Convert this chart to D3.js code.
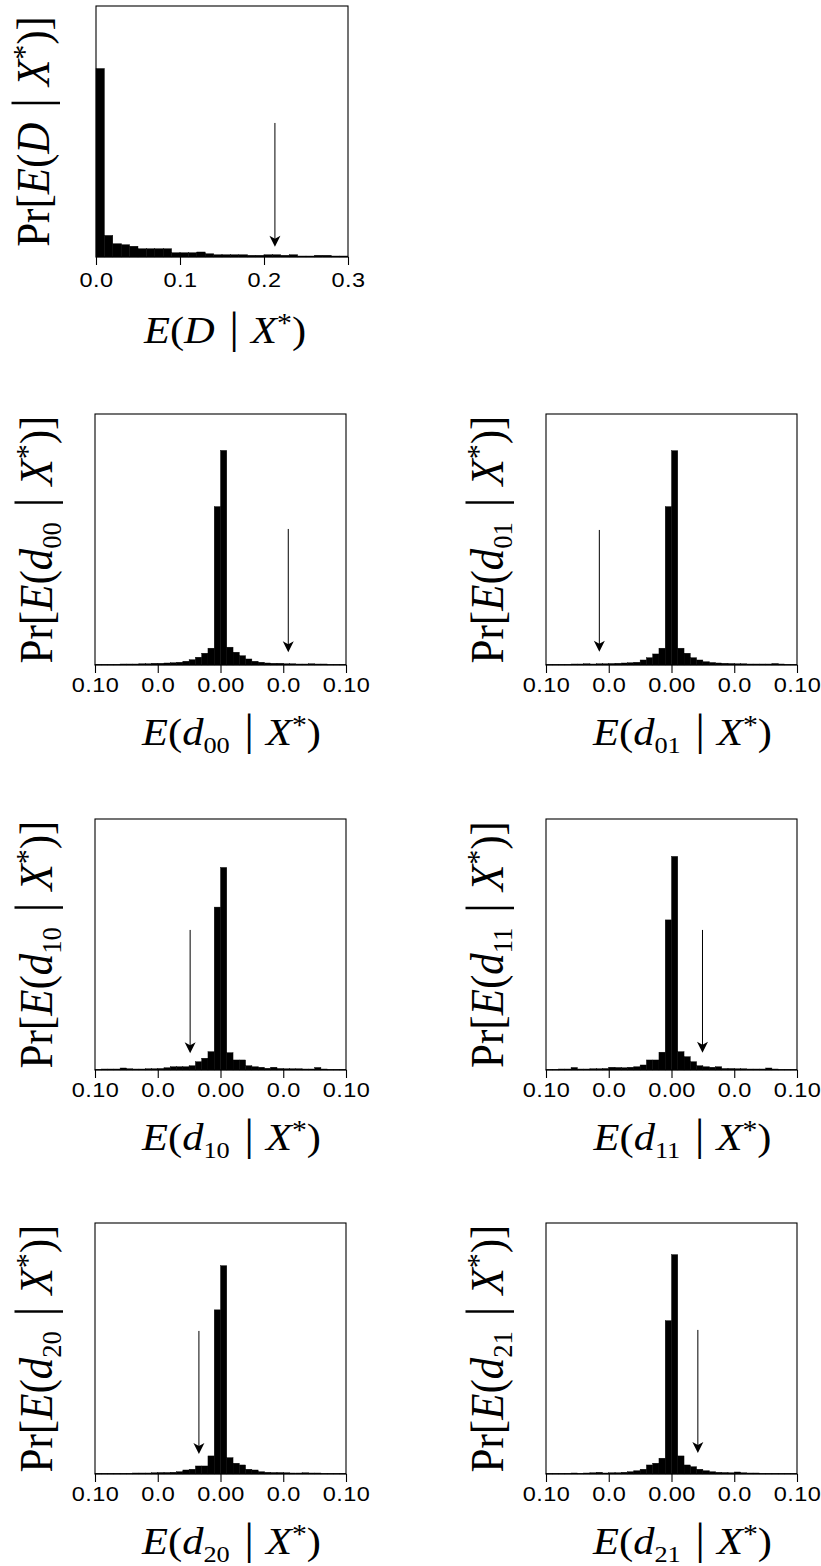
<!DOCTYPE html>
<html><head><meta charset="utf-8">
<script src="https://cdn.jsdelivr.net/npm/d3@7"></script>
<style>
html,body{margin:0;padding:0;background:#fff;}
svg{display:block;}
.ticklab{font-family:'Liberation Sans',Arial,Helvetica,sans-serif;font-size:21px;}
</style></head><body>
<svg id="chart" width="821" height="1566"></svg>
<script>
// ================= DATA =================
// Panel for E(D | X*): 30 bins of width 0.01 on [0, 0.3]; bar heights in % of the y axis
const binWidthD = 0.01;
const histD = [75.1,8.6,5.3,4.9,4.3,3.3,3.3,3.3,3.3,1.7,1.7,1.7,2.0,1.3,0.9,0.9,0.9,0.9,0.7,0.7,0.9,0.9,0.7,0.9,0.4,0.4,0.7,0.7,0.4,0.4];
const observedD = 0.213;
const ticksD = [0, 0.1, 0.2, 0.3];
const tickLabelsD = ["0.0", "0.1", "0.2", "0.3"];

// Panels for E(d_ij | X*): 40 bins of width 0.005 on [-0.10, 0.10]
const binWidthd = 0.005;
const subscriptsd = ["00", "01", "10", "11", "20", "21"];
const hist_d00 = [0.3,0.3,0.3,0.3,0.4,0.4,0.4,0.5,0.5,0.7,0.7,0.8,0.9,1.1,1.5,2.1,3.1,4.7,6.7,63.1,85.5,7.1,5.1,3.7,2.4,1.5,1.1,0.8,0.7,0.7,0.5,0.5,0.4,0.4,0.5,0.4,0.4,0.3,0.3,0.3];
const hist_d01 = [0.3,0.3,0.3,0.3,0.4,0.4,0.5,0.4,0.5,0.5,0.6,0.7,0.8,0.9,1.1,2.0,2.9,4.4,6.7,63.1,85.4,6.7,4.7,2.9,2.0,1.3,1.0,0.8,0.7,0.6,0.5,0.5,0.4,0.4,0.4,0.4,0.6,0.4,0.3,0.3];
const hist_d10 = [0.3,0.4,0.4,0.4,0.8,0.5,0.4,0.4,0.5,0.5,0.6,0.9,1.3,1.3,1.3,1.7,3.3,4.7,7.3,64.9,80.7,6.9,4.0,4.0,1.7,1.3,1.1,0.7,1.1,0.6,0.5,0.5,0.5,0.4,0.4,1.0,0.4,0.3,0.3,0.3];
const hist_d11 = [0.3,0.3,0.4,0.4,1.0,0.4,0.4,0.5,0.5,0.6,1.1,1.0,0.9,1.1,1.3,2.0,4.0,4.0,7.1,59.8,85.1,7.3,5.3,3.3,1.7,1.3,1.1,1.3,0.6,0.6,0.5,0.5,0.4,0.4,0.4,0.8,0.4,0.3,0.3,0.3];
const hist_d20 = [0.3,0.3,0.3,0.3,0.3,0.3,0.4,0.4,0.4,0.5,0.6,0.6,0.7,0.9,1.6,1.9,3.2,3.2,7.2,65.4,83.0,6.5,4.3,3.6,1.9,1.6,0.9,0.7,0.6,0.6,0.5,0.4,0.4,0.5,0.4,0.4,0.3,0.3,0.3,0.3];
const hist_d21 = [0.3,0.3,0.3,0.3,0.4,0.3,0.4,0.5,0.7,0.4,0.5,0.5,0.7,0.9,1.3,1.9,3.6,4.3,6.3,61.1,87.4,7.2,3.6,2.9,1.9,1.3,0.9,0.7,0.6,0.5,0.8,0.5,0.4,0.4,0.3,0.3,0.3,0.3,0.3,0.3];
const observedd = [0.054, -0.0575, -0.0242, 0.0247, -0.0172, 0.021];
const ticksd = [-0.10, -0.05, 0, 0.05, 0.10];
const tickLabelsd = ["0.10", "0.0", "0.00", "0.0", "0.10"];

// ================= LAYOUT / STYLE =================
const W = 251, H = 251;
const colX = [95, 546];
const rowY = [6, 414, 819, 1223];
const serif = "'Liberation Serif','Times New Roman',serif";
// arrow extents in y-axis units [start, tip]
const arrowD = [53.4, 4.1];
const arrowsd = [[54.2,5.1],[53.8,5.3],[55.8,6.7],[55.8,6.9],[57.0,8.0],[57.4,8.4]];

const svg = d3.select("#chart");

function addLabel(textSel, fs, sub, withPr) {
  const parts = [];
  if (withPr) parts.push({t: "Pr[", s: "n"});
  parts.push({t: "E", s: "i"}, {t: "(", s: "n"});
  if (sub) { parts.push({t: "d", s: "i"}, {t: sub, s: "sub"}); }
  else parts.push({t: "D", s: "i"});
  parts.push({t: "|", s: "bar"}, {t: "X", s: "i", dx: fs*0.28}, {t: "*", s: "sup"}, {t: ")", s: "n"});
  if (withPr) parts.push({t: "]", s: "n"});
  let shift = 0;
  parts.forEach(p => {
    const ts = textSel.append("tspan").text(p.t);
    let dy = 0;
    if (p.s === "i") ts.attr("font-style", "italic");
    if (p.s === "sub") { ts.attr("font-size", fs*0.62); dy = fs*0.2; }
    if (p.s === "sup") { ts.attr("font-size", fs*0.7); dy = -fs*0.3; }
    if (p.s === "bar") { ts.attr("font-size", fs*1.15).attr("dx", fs*0.34); }
    if (p.dx) ts.attr("dx", p.dx);
    if (dy - shift !== 0) ts.attr("dy", dy - shift);
    shift = dy;
  });
}

function drawPanel(o) {
  const g = svg.append("g").attr("transform", `translate(${o.x},${o.y})`);
  const x = d3.scaleLinear().domain(o.domain).range([0, o.w]);
  const y = d3.scaleLinear().domain([0, 100]).range([H, 0]);
  const bins = o.hist.map((v, i) => ({x0: o.start + i*o.bw, x1: o.start + (i+1)*o.bw, v}));
  g.selectAll("rect.bar").data(bins).join("rect").attr("class", "bar")
    .attr("x", d => x(Math.max(d.x0, o.domain[0])))
    .attr("width", d => x(Math.min(d.x1, o.domain[1])) - x(Math.max(d.x0, o.domain[0])))
    .attr("y", d => y(d.v))
    .attr("height", d => y(0) - y(d.v))
    .attr("fill", "#000").attr("stroke", "#000").attr("stroke-width", 0.4);
  // frame
  g.append("rect").attr("x", 0).attr("y", 0).attr("width", o.w).attr("height", H)
    .attr("fill", "none").attr("stroke", "#000").attr("stroke-width", 1.1);
  // x axis
  const ax = d3.axisBottom(x).tickValues(o.ticks).tickFormat((d, i) => o.tickLabels[i]).tickSize(8).tickPadding(3);
  const axg = g.append("g").attr("transform", `translate(0,${H})`).call(ax)
    .attr("font-family", null).attr("font-size", null);
  axg.select(".domain").remove();
  axg.selectAll(".tick line").attr("stroke", "#000").attr("stroke-width", 1.1);
  axg.selectAll(".tick text").attr("class", "ticklab")
    .attr("letter-spacing", 0.4).attr("fill", "#000").attr("dy", null).attr("y", o.tickBase)
    .attr("transform", "scale(1.12,1)");
  // arrow at observed value
  const ax0 = x(o.obs);
  g.append("line").attr("x1", ax0).attr("x2", ax0).attr("y1", y(o.arrow[0])).attr("y2", y(o.arrow[1]) - 4)
    .attr("stroke", "#000").attr("stroke-width", 1);
  const tipY = y(o.arrow[1]);
  g.append("path").attr("d", `M${ax0},${tipY} L${ax0-5.5},${tipY-11} L${ax0},${tipY-8} L${ax0+5.5},${tipY-11} Z`)
    .attr("fill", "#000");
  // x label
  const xl = g.append("text").attr("font-family", serif).attr("font-size", o.xfs)
    .attr("text-anchor", "middle")
    .attr("transform", `translate(${o.w/2 + o.xlOff},${H + o.xlBase}) scale(${o.xsx},1)`);
  addLabel(xl, o.xfs, o.sub, false);
  // y label
  const yl = g.append("text").attr("font-family", serif).attr("font-size", o.yfs)
    .attr("text-anchor", "middle")
    .attr("transform", `translate(${-o.ylOff},${H/2}) rotate(-90) scale(1,${o.ysy})`);
  addLabel(yl, o.yfs, o.sub, true);
}

drawPanel({x: 96, y: rowY[0], w: 252, domain: [0, 0.3], start: 0, bw: binWidthD, hist: histD,
  ticks: ticksD, tickLabels: tickLabelsD, obs: observedD, arrow: arrowD, sub: null,
  tickBase: 30, xfs: 38, xsx: 1.12, xlOff: 3, xlBase: 86, yfs: 43, ysy: 1.06, ylOff: 47});

const histsd = [hist_d00, hist_d01, hist_d10, hist_d11, hist_d20, hist_d21];
histsd.forEach((h, i) => {
  const r = Math.floor(i/2) + 1, c = i % 2;
  drawPanel({x: colX[c], y: rowY[r], w: W, domain: [-0.1, 0.1], start: -0.1, bw: binWidthd, hist: h,
    ticks: ticksd, tickLabels: tickLabelsd, obs: observedd[i], arrow: arrowsd[i], sub: subscriptsd[i],
    tickBase: 27, xfs: 38, xsx: 1.12, xlOff: 11, xlBase: 80, yfs: 43, ysy: 1.06, ylOff: 43});
});
</script>
</body></html>
